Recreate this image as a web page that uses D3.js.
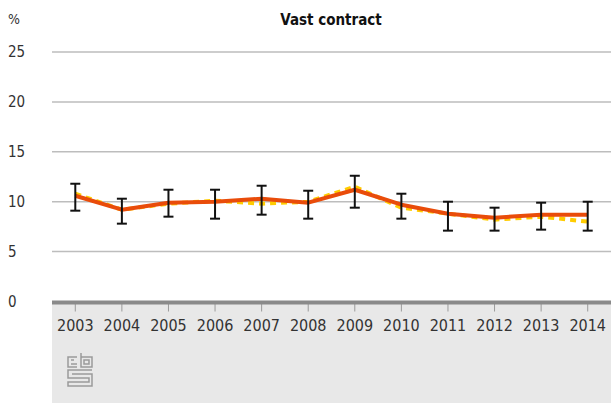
<!DOCTYPE html>
<html>
<head>
<meta charset="utf-8">
<script src="https://cdn.jsdelivr.net/npm/d3@7"></script>
<style>
  body { margin: 0; background: #fff; }
  text { font-family: "DejaVu Sans Condensed", "DejaVu Sans", sans-serif; }
</style>
</head>
<body>
<div id="chart"></div>
<script>
// data
var years = ["2003", "2004", "2005", "2006", "2007", "2008", "2009", "2010", "2011", "2012", "2013", "2014"];
var mainSeries = [10.6, 9.2, 9.9, 10.0, 10.3, 9.9, 11.2, 9.7, 8.8, 8.4, 8.7, 8.7];
var dashSeries = [10.8, 9.2, 9.8, 10.1, 9.8, 10.0, 11.5, 9.4, 8.8, 8.2, 8.5, 8.0];
var errLow  = [9.1, 7.8, 8.5, 8.3, 8.7, 8.3, 9.4, 8.3, 7.1, 7.1, 7.2, 7.1];
var errHigh = [11.8, 10.3, 11.2, 11.2, 11.6, 11.1, 12.6, 10.8, 10.0, 9.4, 9.9, 10.0];
var yTicks = [0, 5, 10, 15, 20, 25];

var width = 611, height = 403;
var margin = {top: 52, right: 0, bottom: 102, left: 52};

var svg = d3.select("#chart").append("svg")
    .attr("width", width)
    .attr("height", height);

var x = d3.scaleBand()
    .domain(years)
    .range([margin.left, width - margin.right]);

var y = d3.scaleLinear()
    .domain([0, 25])
    .range([height - margin.bottom + 0.5, margin.top]);

// grey footer area
svg.append("rect")
    .attr("x", margin.left)
    .attr("y", y(0))
    .attr("width", width - margin.left)
    .attr("height", height - y(0))
    .attr("fill", "#e8e8e8");

// gridlines
svg.append("g")
    .selectAll("line")
    .data(yTicks.filter(d => d > 0))
    .join("line")
    .attr("x1", margin.left)
    .attr("x2", width)
    .attr("y1", d => y(d))
    .attr("y2", d => y(d))
    .attr("stroke", "#bdbdbd")
    .attr("stroke-width", 1.5);

// y labels
svg.append("g")
    .selectAll("text")
    .data(yTicks)
    .join("text")
    .attr("x", 8)
    .attr("y", d => y(d) + 5)
    .attr("font-size", 15)
    .attr("fill", "#333")
    .text(d => d);

svg.append("text")
    .attr("x", 8)
    .attr("y", 24)
    .attr("font-size", 14)
    .attr("fill", "#333")
    .text("%");

svg.append("text")
    .attr("x", 331)
    .attr("y", 25)
    .attr("text-anchor", "middle")
    .attr("font-size", 15)
    .attr("font-weight", "bold")
    .attr("fill", "#111")
    .text("Vast contract");

// x axis
var xAxis = svg.append("g")
    .attr("transform", `translate(0,${y(0)})`)
    .call(d3.axisBottom(x).tickSize(10).tickPadding(8).tickSizeOuter(0));
xAxis.select(".domain").remove();
xAxis.selectAll(".tick line").attr("stroke", "#9a9a9a").attr("stroke-width", 1);
xAxis.selectAll(".tick text")
    .attr("font-size", 16)
    .attr("fill", "#333")
    .attr("font-family", "\"DejaVu Sans Condensed\", \"DejaVu Sans\", sans-serif");

svg.append("line")
    .attr("x1", margin.left)
    .attr("x2", width)
    .attr("y1", y(0) + 1)
    .attr("y2", y(0) + 1)
    .attr("stroke", "#8a8a8a")
    .attr("stroke-width", 4);

var cx = d => x(d) + x.bandwidth() / 2;

var line = d3.line()
    .x((d, i) => cx(years[i]))
    .y(d => y(d));

svg.append("path")
    .datum(dashSeries)
    .attr("d", line)
    .attr("fill", "none")
    .attr("stroke", "#ffcc00")
    .attr("stroke-width", 4)
    .attr("stroke-dasharray", "6,5");

svg.append("path")
    .datum(mainSeries)
    .attr("d", line)
    .attr("fill", "none")
    .attr("stroke", "#e94c0a")
    .attr("stroke-width", 4)
    .attr("stroke-linejoin", "round");

// error bars
var err = svg.append("g")
    .selectAll("g")
    .data(years)
    .join("g")
    .attr("stroke", "#111")
    .attr("stroke-width", 2);

err.append("line")
    .attr("x1", d => cx(d))
    .attr("x2", d => cx(d))
    .attr("y1", (d, i) => y(errLow[i]))
    .attr("y2", (d, i) => y(errHigh[i]));
err.append("line")
    .attr("x1", d => cx(d) - 5)
    .attr("x2", d => cx(d) + 5)
    .attr("y1", (d, i) => y(errLow[i]))
    .attr("y2", (d, i) => y(errLow[i]));
err.append("line")
    .attr("x1", d => cx(d) - 5)
    .attr("x2", d => cx(d) + 5)
    .attr("y1", (d, i) => y(errHigh[i]))
    .attr("y2", (d, i) => y(errHigh[i]));

// cbs logo
var logo = svg.append("g")
    .attr("transform", "translate(67,352)")
    .attr("fill", "none")
    .attr("stroke", "#9a9a9a")
    .attr("stroke-width", 1.5);
logo.append("path").attr("d", "M10,5 H1 V15 H10");
logo.append("path").attr("d", "M4,8 H7 M4,12 H10");
logo.append("path").attr("d", "M14,1 V15 H25 V5 H14");
logo.append("rect").attr("x", 17).attr("y", 8).attr("width", 5).attr("height", 4);
logo.append("path").attr("d", "M25,18 H1 V26 H22 V30 H1 V34 H25 V22 H5");
</script>
</body>
</html>
